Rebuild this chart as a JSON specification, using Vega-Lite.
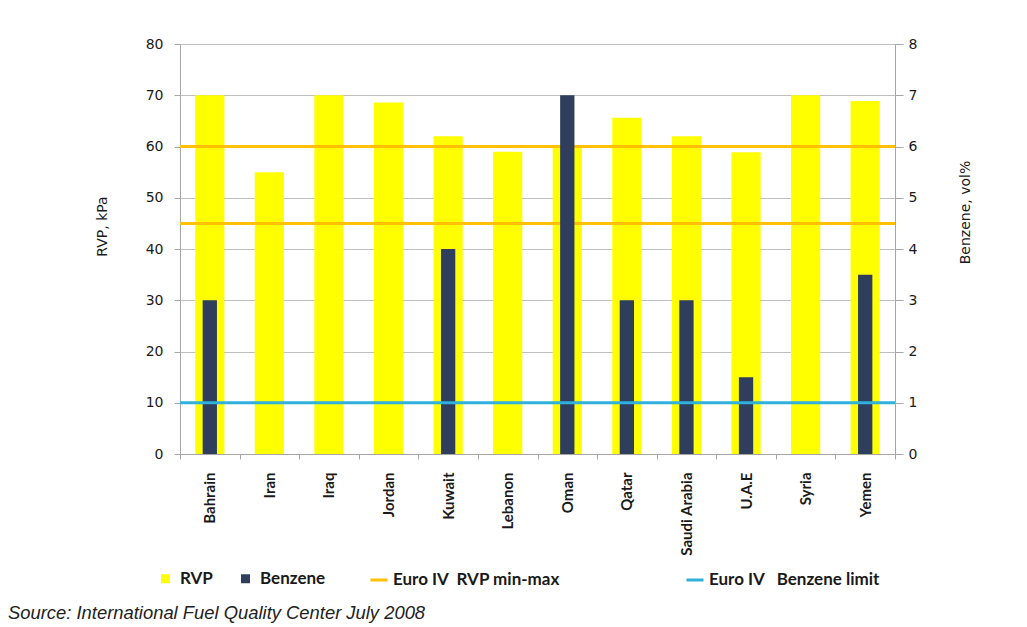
{
  "$schema": "https://vega.github.io/schema/vega-lite/v6.json",
  "width": 715,
  "height": 410,
  "autosize": {"type": "none"},
  "padding": {"left": 180, "top": 44, "right": 132, "bottom": 173},
  "background": "white",
  "title": {
    "text": "Source: International Fuel Quality Center July 2008",
    "orient": "bottom",
    "anchor": "start",
    "frame": "group",
    "dx": -172,
    "offset": 16,
    "font": "Liberation Sans",
    "fontStyle": "italic",
    "fontWeight": "normal",
    "fontSize": 18.4,
    "color": "#222222"
  },
  "data": {
    "values": [
      {"country": "Bahrain", "rvp": 70, "benzene": 3},
      {"country": "Iran", "rvp": 55, "benzene": null},
      {"country": "Iraq", "rvp": 70, "benzene": null},
      {"country": "Jordan", "rvp": 68.6, "benzene": null},
      {"country": "Kuwait", "rvp": 62, "benzene": 4},
      {"country": "Lebanon", "rvp": 59, "benzene": null},
      {"country": "Oman", "rvp": 60, "benzene": 7},
      {"country": "Qatar", "rvp": 65.6, "benzene": 3},
      {"country": "Saudi Arabia", "rvp": 62, "benzene": 3},
      {"country": "U.A.E", "rvp": 58.9, "benzene": 1.5},
      {"country": "Syria", "rvp": 70, "benzene": null},
      {"country": "Yemen", "rvp": 68.9, "benzene": 3.5}
    ]
  },
  "encoding": {
    "x": {
      "field": "country",
      "type": "nominal",
      "sort": null,
      "scale": {"paddingInner": 0, "paddingOuter": 0},
      "axis": {
        "title": null,
        "labelAngle": -90,
        "labelAlign": "right",
        "labelBaseline": "middle",
        "labelFont": "Lato",
        "labelFontWeight": "bold",
        "labelFontSize": 15,
        "labelColor": "#1a1a1a",
        "labelPadding": 13,
        "tickBand": "extent",
        "tickSize": 5,
        "tickColor": "#a6a6a6",
        "domainColor": "#a6a6a6",
        "grid": false
      }
    }
  },
  "layer": [
    {
      "layer": [
        {
          "mark": {"type": "bar", "width": {"band": 0.49}},
          "encoding": {
            "y": {
              "field": "rvp",
              "type": "quantitative",
              "scale": {"domain": [0, 80], "nice": false},
              "axis": {
                "title": "RVP, kPa",
                "values": [0, 5, 10, 15, 20, 25, 30, 35, 40, 45, 50, 55, 60, 65, 70, 75, 80],
                "labelExpr": "datum.value % 10 === 0 ? datum.label : ''",
                "tickOpacity": {"condition": {"test": "datum.value % 10 === 0", "value": 1}, "value": 0},
                "tickSize": 6,
                "tickColor": "#a6a6a6",
                "labelPadding": 11,
                "labelFont": "DejaVu Sans",
                "labelFontSize": 14,
                "labelColor": "#1a1a1a",
                "domainColor": "#a6a6a6",
                "grid": true,
                "gridColor": "#bfbfbf",
                "gridWidth": 1,
                "titleFont": "DejaVu Sans",
                "titleFontSize": 14,
                "titleFontWeight": "normal",
                "titleColor": "#1a1a1a",
                "titleAngle": -90,
                "titleAlign": "center",
                "titleBaseline": "middle",
                "titleX": -78,
                "titleY": 182
              }
            },
            "fill": {
              "datum": "RVP",
              "type": "nominal",
              "scale": {"domain": ["RVP", "Benzene"], "range": ["#FFFF00", "#2E3E5C"]},
              "legend": {
                "title": null,
                "orient": "none",
                "direction": "horizontal",
                "legendX": -23,
                "legendY": 526,
                "symbolType": "square",
                "symbolSize": 81,
                "symbolStrokeWidth": 0,
                "labelFont": "Lato",
                "labelFontWeight": "bold",
                "labelFontSize": 17,
                "labelColor": "#1a1a1a",
                "labelOffset": 6,
                "labelLimit": 300,
                "columnPadding": 24,
                "padding": 0
              }
            }
          }
        },
        {
          "data": {
            "values": [
              {"series": "Euro IV\u00a0\u00a0RVP min-max", "level": 60},
              {"series": "Euro IV\u00a0\u00a0RVP min-max", "level": 45}
            ]
          },
          "mark": {"type": "rule", "strokeWidth": 3},
          "encoding": {
            "x": null,
            "y": {"field": "level", "type": "quantitative"},
            "stroke": {
              "field": "series",
              "type": "nominal",
              "scale": {"domain": ["Euro IV\u00a0\u00a0RVP min-max", "Euro IV\u00a0\u00a0\u00a0Benzene limit"], "range": ["#FFC000", "#2FB0DD"]},
              "legend": {
                "title": null,
                "orient": "none",
                "direction": "horizontal",
                "legendX": 189,
                "legendY": 526,
                "symbolType": "stroke",
                "symbolSize": 289,
                "symbolStrokeWidth": 3,
                "labelFont": "Lato",
                "labelFontWeight": "bold",
                "labelFontSize": 17,
                "labelColor": "#1a1a1a",
                "labelOffset": 4,
                "labelLimit": 300,
                "columnPadding": 120,
                "padding": 0
              }
            }
          }
        }
      ]
    },
    {
      "layer": [
        {
          "mark": {"type": "bar", "width": {"band": 0.24}},
          "encoding": {
            "y": {
              "field": "benzene",
              "type": "quantitative",
              "scale": {"domain": [0, 8], "nice": false},
              "axis": {
                "orient": "right",
                "title": "Benzene, vol%",
                "values": [0, 1, 2, 3, 4, 5, 6, 7, 8],
                "tickSize": 8,
                "tickColor": "#a6a6a6",
                "labelPadding": 5,
                "labelFont": "DejaVu Sans",
                "labelFontSize": 14,
                "labelColor": "#1a1a1a",
                "domainColor": "#a6a6a6",
                "grid": false,
                "titleFont": "DejaVu Sans",
                "titleFontSize": 14,
                "titleFontWeight": "normal",
                "titleColor": "#1a1a1a",
                "titleAngle": -90,
                "titleAlign": "center",
                "titleBaseline": "middle",
                "titleX": 70,
                "titleY": 168
              }
            },
            "fill": {"datum": "Benzene", "type": "nominal"}
          }
        },
        {
          "data": {
            "values": [
              {"series": "Euro IV\u00a0\u00a0\u00a0Benzene limit", "level": 1}
            ]
          },
          "mark": {"type": "rule", "strokeWidth": 3},
          "encoding": {
            "x": null,
            "y": {"field": "level", "type": "quantitative"},
            "stroke": {"field": "series", "type": "nominal"}
          }
        }
      ]
    }
  ],
  "resolve": {"scale": {"y": "independent"}},
  "config": {
    "view": {"stroke": null}
  }
}
